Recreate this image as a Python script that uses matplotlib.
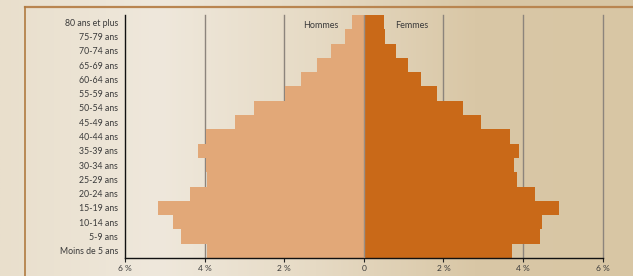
#!/usr/bin/env python3
# -*- coding: utf-8 -*-
# Pyramide des âges : hommes à gauche, femmes à droite (en % de la population)

import numpy as np
import matplotlib
matplotlib.use("Agg")
import matplotlib.pyplot as plt

# Tranches d'âge, de la plus jeune à la plus âgée
ages = ["Moins de 5 ans", "5-9 ans", "10-14 ans", "15-19 ans", "20-24 ans",
        "25-29 ans", "30-34 ans", "35-39 ans", "40-44 ans", "45-49 ans",
        "50-54 ans", "55-59 ans", "60-64 ans", "65-69 ans", "70-74 ans",
        "75-79 ans", "80 ans et plus"]

# Parts en %
hommes = [3.95, 4.6, 4.8, 5.17, 4.37, 3.95, 3.97, 4.17, 3.97, 3.24,
          2.76, 1.98, 1.58, 1.18, 0.83, 0.48, 0.31]
femmes = [3.72, 4.42, 4.47, 4.9, 4.3, 3.85, 3.77, 3.9, 3.68, 2.95,
          2.5, 1.84, 1.44, 1.1, 0.82, 0.54, 0.5]

ticks = [-6, -4, -2, 0, 2, 4, 6]
tick_labels = ["6 %", "4 %", "2 %", "0", "2 %", "4 %", "6 %"]

plt.rcParams['font.family'] = ['Lato', 'DejaVu Sans']

fig = plt.figure(figsize=(6.33, 2.76), dpi=100)
fig.patch.set_facecolor("#e4d6bb")

# fond dégradé (plus clair à gauche, plus foncé à droite)
bg = fig.add_axes([0, 0, 1, 1], zorder=-10)
grad = np.linspace(0, 1, 256)[None, :]
cmap = matplotlib.colors.LinearSegmentedColormap.from_list(
    "fond", ["#e9dfcc", "#efe8dc", "#e6dac4", "#d9c7a6", "#d8c6a4"])
bg.imshow(grad, aspect="auto", cmap=cmap, extent=[0, 1, 0, 1])
bg.axis("off")
# cadre brun
bg.plot([25 / 633, 1], [1 - 6.5 / 276, 1 - 6.5 / 276], color="#b98550", lw=1.6)
bg.plot([25 / 633, 25 / 633], [0, 1 - 6.5 / 276], color="#b07a40", lw=1.2)
bg.set_xlim(0, 1)
bg.set_ylim(0, 1)

ax = fig.add_axes([125 / 633, 18 / 276, (602.7 - 125) / 633, (258 - 15) / 276])
ax.patch.set_alpha(0)

y = np.arange(len(ages))
h = np.array(hommes)
f = np.array(femmes)

for t in [-4, -2, 2, 4, 6]:
    ax.axvline(t, color="#8c847c", lw=1.0, zorder=1, clip_on=False)
ax.barh(y, -h, height=1.0, color="#e2a878", zorder=2)
ax.barh(y, f, height=1.0, color="#c96918", zorder=2)
ax.axvline(0, color="#9a8f86", lw=1.0, zorder=3)

ax.text(-1.08, 15.8, "Hommes", ha="center", va="center", fontsize=6.5, color="#3a3a3a", zorder=4)
ax.text(1.2, 15.8, "Femmes", ha="center", va="center", fontsize=6.5, color="#3a3a3a", zorder=4)

ax.set_xlim(-6, 6)
ax.set_ylim(-0.5, len(ages) - 0.5)
ax.set_xticks(ticks)
ax.set_xticklabels(tick_labels)
ax.set_yticks(y)
ax.set_yticklabels(ages)
ax.tick_params(axis="x", length=3, width=0.8, color="#222222", labelsize=6,
               labelcolor="#3a3a3a", pad=2)
ax.tick_params(axis="y", length=0, labelsize=6.3, labelcolor="#3a3a3a", pad=5)

for s in ["top", "right"]:
    ax.spines[s].set_visible(False)
ax.spines["left"].set_color("#111111")
ax.spines["bottom"].set_color("#111111")
ax.spines["left"].set_linewidth(1.0)
ax.spines["bottom"].set_linewidth(1.0)

fig.savefig("out.png", dpi=100, facecolor=fig.get_facecolor())
